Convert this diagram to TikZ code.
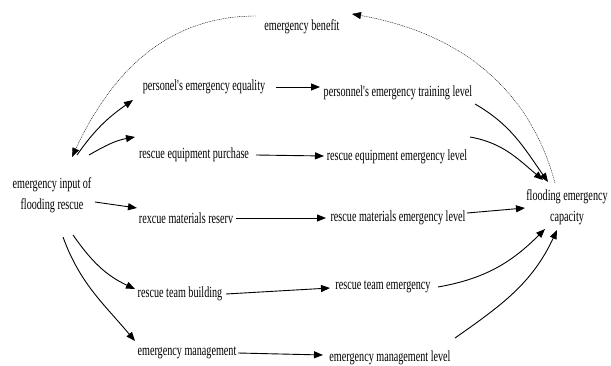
\documentclass[tikz,border=0pt]{standalone}
\usepackage{fontspec}
\setmainfont{Liberation Serif}[FakeStretch=0.655,Ligatures=TeXOff]
\usetikzlibrary{arrows.meta}
\begin{document}
\begin{tikzpicture}[x=1pt,y=1pt,
  lbl/.style={inner sep=0pt,font=\fontsize{15.5}{21.5}\selectfont,align=center},
  arr/.style={line width=0.9pt,-{Triangle[length=9pt,width=7pt]}},
  dot/.style={line width=0.4pt,dash pattern=on 1pt off 0.8pt,-{Triangle[length=9pt,width=7pt]}}]
\useasboundingbox (0,0) rectangle (611,365);
\node[lbl] (ben) at (302,338) {emergency benefit};
\node[lbl] (pq)  at (204,278) {personel's emergency equality};
\node[lbl] (ptl) at (398,272) {personnel's emergency training level};
\node[lbl] (rep) at (194,210) {rescue equipment purchase};
\node[lbl] (rel) at (397,208) {rescue equipment emergency level};
\node[lbl] (in)  at (52,170) {emergency input of\\flooding rescue};
\node[lbl] (rmr) at (186,147) {rexcue materials reserv};
\node[lbl] (rml) at (398,147) {rescue materials emergency level};
\node[lbl] (cap) at (567,158) {flooding emergency\\capacity};
\node[lbl] (rtb) at (180,71) {rescue team building};
\node[lbl] (rte) at (383,78) {rescue team emergency};
\node[lbl] (em)  at (187,12) {emergency management};
\node[lbl] (eml) at (390,7) {emergency management level};
% dotted feedback
\draw[dot] ([shift={(-46,11)}]ben.center) to[out=180,in=65] ([shift={(20,38)}]in.center);
\draw[dot] ([shift={(-12,24)}]cap.center) to[out=105,in=-10] ([shift={(50,13)}]ben.center);
% from input
\draw[arr] ([shift={(25,40)}]in.center) to[out=55,in=215] ([shift={(-71,-13)}]pq.center);
\draw[arr] ([shift={(37,40)}]in.center) to[out=30,in=190] ([shift={(-59,18)}]rep.center);
\draw[arr] ([shift={(43,-7)}]in.center) -- ([shift={(-49,10)}]rmr.center);
\draw[arr] ([shift={(21,-40)}]in.center) to[out=-55,in=155] ([shift={(-45,5)}]rtb.center);
\draw[arr] ([shift={(11,-42)}]in.center) to[out=-70,in=130] ([shift={(-52,12)}]em.center);
% middle
\draw[arr] ([shift={(72,0)}]pq.center) -- ([shift={(-78,6)}]ptl.center);
\draw[arr] ([shift={(62,0)}]rep.center) -- ([shift={(-73,1)}]rel.center);
\draw[arr] ([shift={(50,0)}]rmr.center) -- ([shift={(-72,0)}]rml.center);
\draw[arr] ([shift={(46,0)}]rtb.center) -- ([shift={(-53,-1)}]rte.center);
\draw[arr] ([shift={(51,0)}]em.center) -- ([shift={(-67,3)}]eml.center);
% to capacity
\draw[arr] ([shift={(77,-11)}]ptl.center) to[out=-30,in=125] ([shift={(-19,25)}]cap.center);
\draw[arr] ([shift={(73,20)}]rel.center) to[out=-10,in=140] ([shift={(-24,27)}]cap.center);
\draw[arr] ([shift={(69,5)}]rml.center) -- ([shift={(-42,-1)}]cap.center);
\draw[arr] ([shift={(55,0)}]rte.center) to[out=10,in=-135] ([shift={(-22,-22)}]cap.center);
\draw[arr] ([shift={(65,20)}]eml.center) to[out=35,in=-115] ([shift={(-10,-23)}]cap.center);
\end{tikzpicture}
\end{document}
